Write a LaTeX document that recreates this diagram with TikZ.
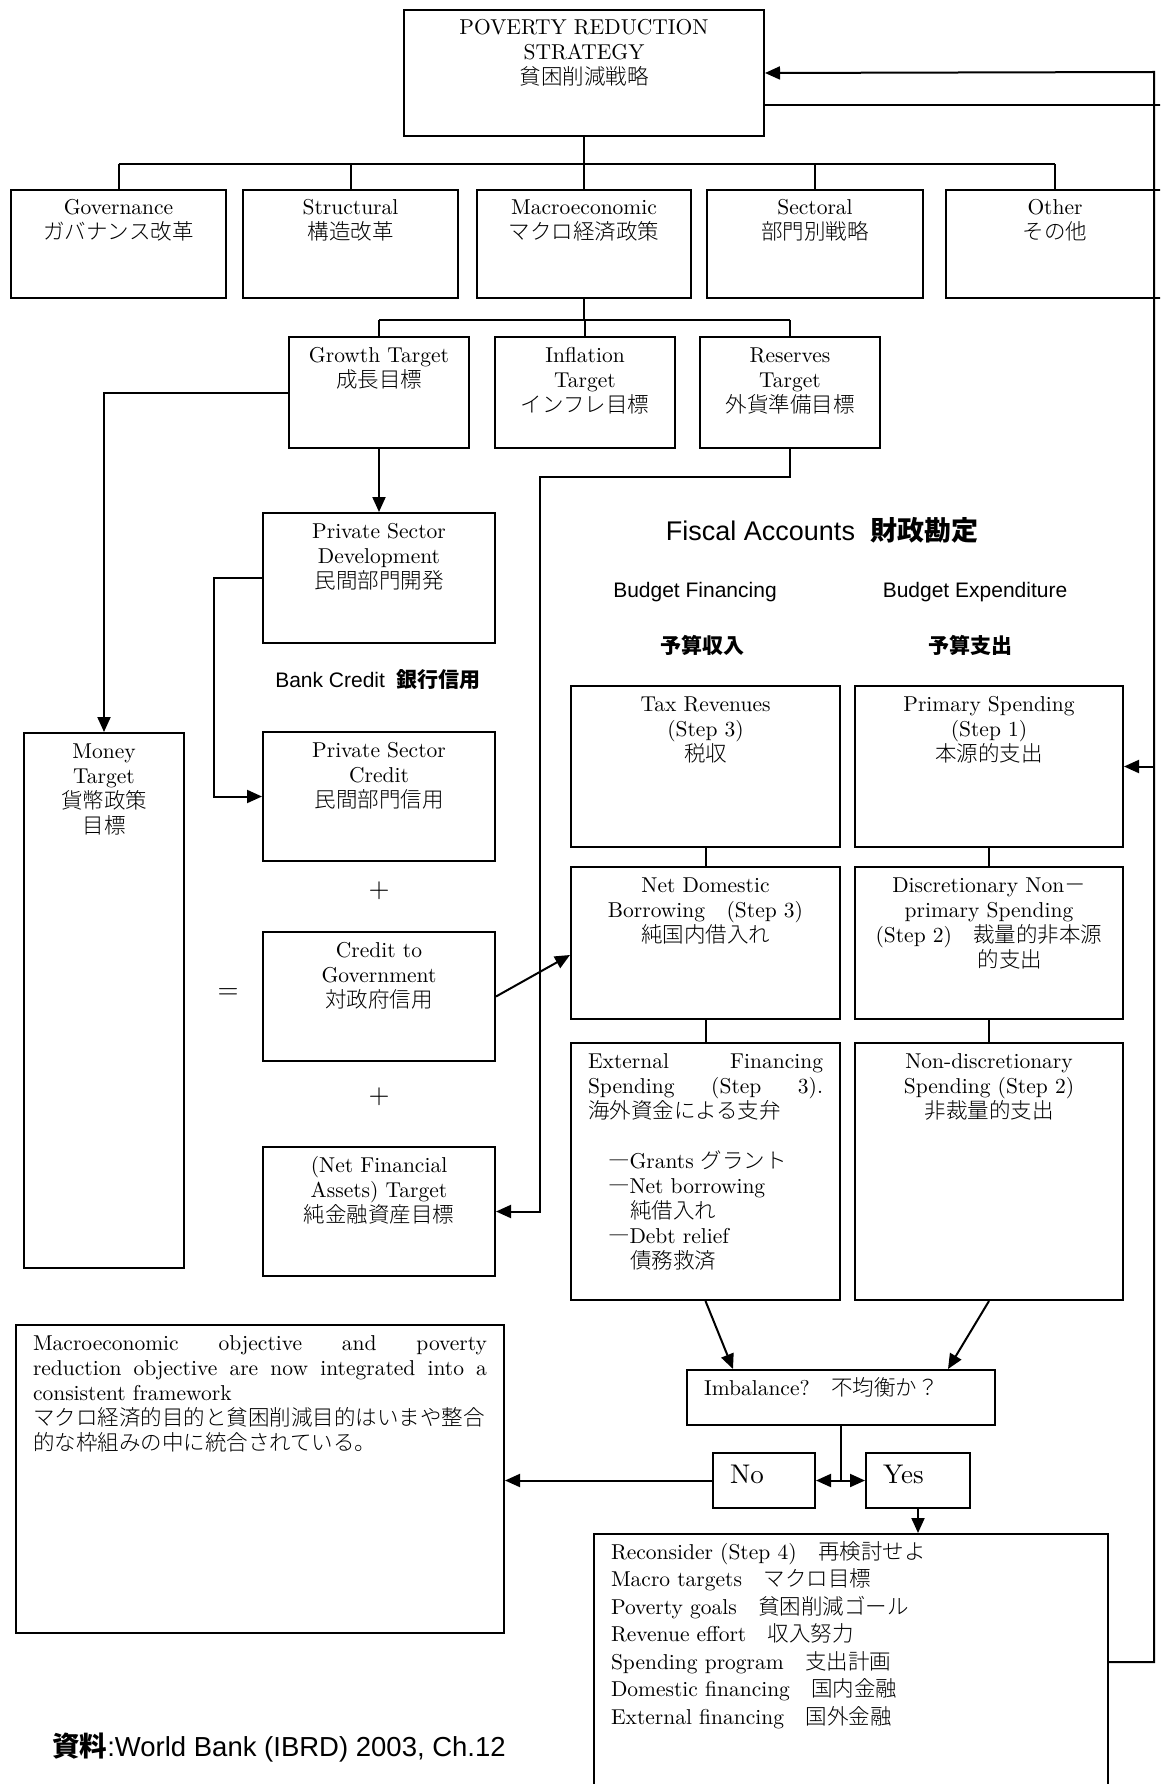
\documentclass[tikz,border=0pt]{standalone}
\usepackage{fontspec}
\setmainfont{lmroman10-regular}[Extension=.otf]
\IfFontExistsTF{Noto Sans CJK JP Light}
  {\newfontfamily\jpfont{Noto Sans CJK JP Light}}
  {\newfontfamily\jpfont{Noto Sans CJK JP}}
\newfontfamily\jpheavy{Noto Sans CJK JP}
\newfontfamily\arialfont{Liberation Sans}
\newcommand{\ja}[1]{{\jpfont #1}}
\newcommand{\jab}[1]{{\jpheavy\bfseries #1}}
\usetikzlibrary{arrows.meta,positioning}

\begin{document}
\begin{tikzpicture}[
    x=1pt, y=-1pt,
    line width=2pt,
    >={Triangle[length=15pt,width=13pt]},
    box/.style 2 args={rectangle,draw,anchor=north west,inner xsep=6pt,inner ysep=0pt,
        font=\fontsize{21.5}{25}\selectfont,
        execute at begin node={\begin{minipage}[t][#2][t]{\dimexpr#1-12pt\relax}\centering\rule{0pt}{25pt}},
        execute at end node={\end{minipage}}},
    lbox/.style 2 args={rectangle,draw,anchor=north west,inner xsep=17pt,inner ysep=0pt,
        font=\fontsize{21.5}{25}\selectfont,
        execute at begin node={\begin{minipage}[t][#2][t]{\dimexpr#1-34pt\relax}\raggedright\rule{0pt}{25pt}},
        execute at end node={\end{minipage}}},
    heading/.style={font=\arialfont\fontsize{21}{25}\selectfont},
    sign/.style={font=\fontsize{27}{30}\selectfont}
]
\useasboundingbox (0,0) rectangle (1160,1784);
\fill[white] (0,0) rectangle (1160,1784);
\clip (0,0) rectangle (1160,1784);

% Strategy
\node[box={360pt}{126pt}] (strategy) at (403,9) {POVERTY REDUCTION\\STRATEGY\\\ja{貧困削減戦略}};

% Policy areas
\node[box={215pt}{108pt}] (governance) at (10,189) {Governance\\\ja{ガバナンス改革}};
\node[box={215pt}{108pt}] (structural) at (242,189) {Structural\\\ja{構造改革}};
\node[box={214pt}{108pt}] (macro) at (476,189) {Macroeconomic\\\ja{マクロ経済政策}};
\node[box={216pt}{108pt}] (sectoral) at (706,189) {Sectoral\\\ja{部門別戦略}};
\node[box={218pt}{108pt}] (other) at (945,189) {Other\\\ja{その他}};

% Macro targets
\node[box={180pt}{111pt}] (growth) at (288,336) {Growth Target\\\ja{成長目標}};
\node[box={180pt}{111pt}] (inflation) at (494,336) {Inflation\\Target\\\ja{インフレ目標}};
\node[box={180pt}{111pt}] (reserves) at (699,336) {Reserves\\Target\\\ja{外貨準備目標}};

% Monetary side
\node[box={232pt}{130pt}] (psdev) at (262,512) {Private Sector\\Development\\\ja{民間部門開発}};
\node[box={160pt}{535pt}] (money) at (23,732) {Money\\Target\\\ja{貨幣政策}\\\ja{目標}};
\node[box={232pt}{129pt}] (pscredit) at (262,731) {Private Sector\\Credit\\\ja{民間部門信用}};
\node[box={232pt}{129pt}] (govcredit) at (262,931) {Credit to\\Government\\\ja{対政府信用}};
\node[box={232pt}{129pt}] (netassets) at (262,1146) {(Net Financial\\Assets) Target\\\ja{純金融資産目標}};

\node[heading] (bankcredit) at (378,680) {Bank Credit~ \jab{銀行信用}};
\node[sign] (plus1) at (379,891) {+};
\node[sign] (plus2) at (379,1097) {+};
\node[sign] (equals) at (228,994) {=};

% Fiscal accounts
\node[heading,font=\arialfont\fontsize{27}{30}\selectfont] (fiscal) at (822,530) {Fiscal Accounts~ \jab{財政勘定}};
\node[heading] (financing) at (695,592) {Budget Financing};
\node[heading] (expenditure) at (975,592) {Budget Expenditure};
\node[heading] (financingja) at (702,645) {\jab{予算収入}};
\node[heading] (expenditureja) at (970,645) {\jab{予算支出}};

\node[box={269pt}{161pt}] (tax) at (570,685) {Tax Revenues\\(Step 3)\\\ja{税収}};
\node[box={268pt}{161pt}] (primary) at (854,685) {Primary Spending\\(Step 1)\\\ja{本源的支出}};
\node[box={269pt}{152pt}] (domestic) at (570,866) {Net Domestic\\Borrowing\ja{　}(Step 3)\\\ja{純国内借入れ}};
\node[box={268pt}{152pt}] (discretionary) at (854,866) {Discretionary Non\ja{－}\\primary Spending\\(Step 2)\ja{　裁量的非本源}\\\hspace*{42pt}\ja{的支出}};
\node[lbox={269pt}{257pt}] (external) at (570,1042) {\makebox[\linewidth][s]{External Financing}\\\makebox[\linewidth][s]{Spending (Step 3).}\\\ja{海外資金による支弁}\\[25pt]\hspace*{20pt}\ja{―}Grants \ja{グラント}\\\hspace*{20pt}\ja{―}Net borrowing\\\hspace*{42pt}\ja{純借入れ}\\\hspace*{20pt}\ja{―}Debt relief\\\hspace*{42pt}\ja{債務救済}};
\node[box={268pt}{257pt}] (nondisc) at (854,1042) {Non-discretionary\\Spending (Step 2)\\\ja{非裁量的支出}};

% Decision
\node[lbox={308pt}{55pt}] (imbalance) at (686,1369) {Imbalance?\ja{　不均衡か？}};
\node[lbox={102pt}{55pt},font=\fontsize{27}{30}\selectfont] (no) at (712,1452) {\rule{0pt}{30pt}No};
\node[lbox={104pt}{55pt},font=\fontsize{27}{30}\selectfont] (yes) at (865,1452) {\rule{0pt}{30pt}Yes};
\node[lbox={488pt}{308pt}] (objective) at (15,1324) {\makebox[\linewidth][s]{Macroeconomic objective and poverty}\\\makebox[\linewidth][s]{reduction objective are now integrated into a}\\consistent framework\\\ja{マクロ経済的目的と貧困削減目的はいまや整合}\\\ja{的な枠組みの中に統合されている。}};
\node[lbox={514pt}{256pt},font=\fontsize{21.5}{27.5}\selectfont] (reconsider) at (593,1533) {Reconsider (Step 4)\ja{　再検討せよ}\\Macro targets\ja{　マクロ目標}\\Poverty goals\ja{　貧困削減ゴール}\\Revenue effort\ja{　収入努力}\\Spending program\ja{　支出計画}\\Domestic financing\ja{　国内金融}\\External financing\ja{　国外金融}};

\node[heading,font=\arialfont\fontsize{27.5}{30}\selectfont,anchor=west] (source) at (48,1748) {\jab{資料}:World Bank (IBRD) 2003, Ch.12};

% Strategy tree
\draw (strategy.south) -- ++(0,27) coordinate (areabus);
\draw (areabus -| governance.north) -- (areabus -| other.north);
\draw (areabus -| governance.north) -- (governance.north);
\draw (areabus -| structural.north) -- (structural.north);
\draw (areabus) -- (macro.north);
\draw (areabus -| sectoral.north) -- (sectoral.north);
\draw (areabus -| other.north) -- (other.north);

% Macro target tree
\draw (macro.south) -- ++(0,21) coordinate (targetbus);
\draw (targetbus -| growth.north) -- (targetbus -| reserves.north);
\draw (targetbus -| growth.north) -- (growth.north);
\draw (targetbus -| inflation.north) -- (inflation.north);
\draw (targetbus -| reserves.north) -- (reserves.north);

% Growth target links
\draw[->] (growth.west) -| (money.north);
\draw[->] (growth.south) -- (psdev.north);
\draw[->] (psdev.west) -- ++(-48,0) |- (pscredit.west);

% Reserves to net assets
\coordinate (resbend) at (540,477);
\draw[->] (reserves.south) |- (resbend) |- (netassets.east);

% Credit to government
\draw[->] (govcredit.east) -- ([yshift=-12pt]domestic.west);

% Fiscal columns
\draw (tax.south) -- (domestic.north);
\draw (domestic.south) -- (external.north);
\draw (primary.south) -- (discretionary.north);
\draw (discretionary.south) -- (nondisc.north);

% Imbalance test
\draw[->] (external.south) -- ([xshift=-108pt]imbalance.north);
\draw[->] (nondisc.south) -- ([xshift=107pt]imbalance.north);
\draw (imbalance.south) -- (imbalance.south |- no.east);
\draw[<->] (no.east) -- (yes.west);
\draw[->] (no.west) -- (objective.east |- no.west);
\draw[->] (yes.south) -- (yes.south |- reconsider.north);

% Feedback loop
\coordinate (rail) at (1154,72);
\coordinate (edge) at (1175,0);
\draw[->] (reconsider.east) -| (rail) -- (strategy.east);
\draw[->] (rail |- primary.east) -- (primary.east);
\draw ([yshift=-32pt]strategy.east) -- ([yshift=-32pt]strategy.east -| edge);

\end{tikzpicture}
\end{document}
